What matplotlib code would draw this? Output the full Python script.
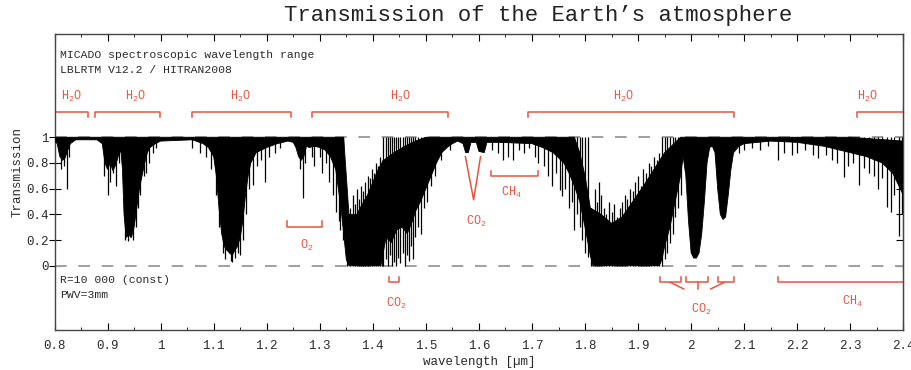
import numpy as np
import matplotlib
matplotlib.use("Agg")
import matplotlib.pyplot as plt
from matplotlib.ticker import MultipleLocator, FixedLocator, FormatStrFormatter

plt.rcParams['font.family'] = ['Liberation Mono', 'DejaVu Sans Mono']
plt.rcParams['mathtext.fontset'] = 'custom'
plt.rcParams['mathtext.rm'] = 'Liberation Mono'
plt.rcParams['mathtext.it'] = 'Liberation Mono'

# --- spectrum ------------------------------------------------------------
# lower edge of the solid black band (wavelength um, transmission)
bot_wl = [0.800, 0.805, 0.810, 0.815, 0.820, 0.825, 0.830, 0.840, 0.880, 0.890,
          0.895, 0.900, 0.905, 0.910, 0.915, 0.920, 0.925, 0.928, 0.931, 0.935,
          0.940, 0.945, 0.950, 0.955, 0.960, 0.965, 0.970, 0.975, 0.980, 0.990,
          1.000, 1.060, 1.080, 1.090, 1.100, 1.105, 1.110, 1.115, 1.120, 1.125,
          1.130, 1.135, 1.140, 1.145, 1.150, 1.155, 1.160, 1.165, 1.170, 1.180,
          1.190, 1.200, 1.220, 1.240, 1.250, 1.255, 1.260, 1.265, 1.270, 1.275,
          1.280, 1.290, 1.300, 1.310, 1.320, 1.330, 1.335, 1.340, 1.345, 1.350,
          1.355, 1.415, 1.425, 1.435, 1.445, 1.455, 1.465, 1.475, 1.480, 1.490,
          1.500, 1.510, 1.520, 1.530, 1.540, 1.550, 1.560, 1.570, 1.575, 1.580,
          1.585, 1.595, 1.600, 1.610, 1.615, 1.640, 1.700, 1.720, 1.740, 1.760,
          1.770, 1.780, 1.790, 1.800, 1.810, 1.815, 1.940, 1.945, 1.950, 1.960,
          1.970, 1.980, 1.985, 1.990, 1.995, 2.000, 2.005, 2.010, 2.015, 2.020,
          2.025, 2.030, 2.035, 2.040, 2.045, 2.050, 2.055, 2.060, 2.065, 2.070,
          2.075, 2.080, 2.090, 2.100, 2.150, 2.200, 2.250, 2.300, 2.330, 2.360,
          2.380, 2.400]
bot_t = [0.97, 0.95, 0.85, 0.82, 0.84, 0.90, 0.95, 0.98, 0.98, 0.95,
         0.80, 0.75, 0.80, 0.74, 0.78, 0.85, 0.90, 0.75, 0.40, 0.22,
         0.24, 0.22, 0.30, 0.45, 0.60, 0.70, 0.80, 0.88, 0.92, 0.95,
         0.97, 0.98, 0.95, 0.92, 0.85, 0.70, 0.45, 0.25, 0.15, 0.12,
         0.10, 0.08, 0.12, 0.15, 0.22, 0.35, 0.55, 0.70, 0.80, 0.88,
         0.90, 0.92, 0.95, 0.97, 0.96, 0.92, 0.85, 0.82, 0.85, 0.93,
         0.92, 0.93, 0.92, 0.90, 0.85, 0.75, 0.60, 0.45, 0.25, 0.05,
         0.00, 0.00, 0.22, 0.18, 0.28, 0.30, 0.25, 0.35, 0.42, 0.50,
         0.60, 0.70, 0.80, 0.88, 0.92, 0.95, 0.97, 0.95, 0.88, 0.88,
         0.96, 0.96, 0.89, 0.88, 0.96, 0.96, 0.95, 0.92, 0.88, 0.80,
         0.72, 0.62, 0.50, 0.30, 0.08, 0.00, 0.00, 0.05, 0.15, 0.30,
         0.50, 0.70, 0.85, 0.70, 0.35, 0.10, 0.06, 0.06, 0.10, 0.25,
         0.50, 0.80, 0.92, 0.93, 0.88, 0.60, 0.40, 0.36, 0.38, 0.55,
         0.75, 0.88, 0.93, 0.95, 0.97, 0.96, 0.93, 0.88, 0.85, 0.80,
         0.72, 0.55]

# upper edge of the solid black band
top_wl = [0.800, 1.345, 1.350, 1.355, 1.370, 1.380, 1.390, 1.400, 1.410, 1.420,
          1.440, 1.460, 1.480, 1.500, 1.780, 1.790, 1.800, 1.810, 1.830, 1.850,
          1.870, 1.890, 1.910, 1.930, 1.950, 1.970, 1.980, 2.300, 2.400]
top_t = [1.00, 1.00, 0.70, 0.40, 0.40, 0.48, 0.55, 0.65, 0.75, 0.82,
         0.88, 0.93, 0.97, 1.00, 1.00, 0.88, 0.70, 0.45, 0.40, 0.33,
         0.38, 0.50, 0.62, 0.75, 0.88, 0.96, 1.00, 1.00, 0.97]

# absorption lines hanging down from the continuum
dip_wl = [0.812, 0.818, 0.824, 0.828, 0.893, 0.900, 0.904, 0.910, 0.916, 0.921,
          0.933, 0.938, 0.943, 0.948, 0.953, 0.957, 0.962, 0.968, 0.972, 0.978,
          0.985, 0.992, 1.060, 1.075, 1.085, 1.095, 1.105, 1.110, 1.117, 1.122,
          1.128, 1.132, 1.135, 1.140, 1.145, 1.150, 1.155, 1.160, 1.167, 1.175,
          1.182, 1.190, 1.197, 1.205, 1.215, 1.225, 1.262, 1.268, 1.273, 1.285,
          1.290, 1.300, 1.305, 1.312, 1.318, 1.325, 1.330, 1.336, 1.339, 1.343,
          1.420, 1.424, 1.428, 1.432, 1.436, 1.440, 1.444, 1.448, 1.452, 1.456,
          1.460, 1.464, 1.468, 1.472, 1.476, 1.480, 1.485, 1.490, 1.496, 1.503,
          1.510, 1.518, 1.528, 1.545, 1.625, 1.635, 1.645, 1.655, 1.665, 1.675,
          1.685, 1.695, 1.705, 1.712, 1.722, 1.730, 1.738, 1.745, 1.752, 1.757,
          1.763, 1.770, 1.775, 1.780, 1.785, 1.790, 1.795, 1.800, 1.805, 1.945,
          1.950, 1.955, 1.960, 1.965, 1.970, 1.975, 1.980, 2.090, 2.100, 2.115,
          2.130, 2.145, 2.163, 2.175, 2.190, 2.200, 2.215, 2.230, 2.240, 2.255,
          2.265, 2.275, 2.288, 2.295, 2.305, 2.316, 2.325, 2.335, 2.345, 2.352,
          2.360, 2.370, 2.376, 2.383, 2.392, 2.397]
dip_min = [0.75, 0.78, 0.60, 0.85, 0.70, 0.55, 0.65, 0.72, 0.62, 0.80,
           0.20, 0.19, 0.22, 0.20, 0.30, 0.45, 0.55, 0.70, 0.72, 0.80,
           0.88, 0.92, 0.92, 0.88, 0.85, 0.75, 0.55, 0.30, 0.10, 0.05,
           0.10, 0.04, 0.03, 0.06, 0.10, 0.08, 0.20, 0.40, 0.60, 0.63,
           0.78, 0.82, 0.65, 0.85, 0.88, 0.92, 0.75, 0.53, 0.80, 0.85,
           0.78, 0.85, 0.72, 0.80, 0.65, 0.55, 0.42, 0.35, 0.28, 0.20,
           0.00, 0.05, 0.00, 0.08, 0.00, 0.03, 0.00, 0.06, 0.02, 0.10,
           0.00, 0.08, 0.04, 0.15, 0.05, 0.22, 0.30, 0.25, 0.45, 0.50,
           0.62, 0.70, 0.82, 0.90, 0.90, 0.88, 0.82, 0.85, 0.82, 0.90,
           0.88, 0.92, 0.85, 0.80, 0.78, 0.70, 0.62, 0.72, 0.59, 0.54,
           0.60, 0.45, 0.50, 0.28, 0.40, 0.30, 0.20, 0.10, 0.07, 0.00,
           0.05, 0.10, 0.18, 0.25, 0.38, 0.45, 0.55, 0.88, 0.90, 0.92,
           0.90, 0.93, 0.82, 0.88, 0.86, 0.88, 0.90, 0.86, 0.84, 0.86,
           0.82, 0.80, 0.69, 0.78, 0.80, 0.63, 0.76, 0.72, 0.70, 0.60,
           0.68, 0.46, 0.42, 0.55, 0.23, 0.40]

# windows of transmission rising out of the saturated bands
peak_wl = [1.352, 1.357, 1.362, 1.366, 1.370, 1.374, 1.378, 1.382, 1.386, 1.390,
           1.394, 1.398, 1.402, 1.406, 1.410, 1.414, 1.418, 1.812, 1.818, 1.822,
           1.826, 1.830, 1.835, 1.840, 1.845, 1.850, 1.855, 1.860, 1.865, 1.870,
           1.875, 1.880, 1.885, 1.890, 1.895, 1.900, 1.905, 1.910, 1.915, 1.920,
           1.925, 1.930, 1.935, 1.940]
peak_max = [0.35, 0.45, 0.55, 0.48, 0.60, 0.52, 0.62, 0.58, 0.65, 0.70,
            0.68, 0.75, 0.72, 0.80, 0.78, 0.85, 0.82, 0.45, 0.60, 0.50,
            0.65, 0.55, 0.45, 0.40, 0.50, 0.42, 0.48, 0.38, 0.45, 0.50,
            0.55, 0.52, 0.60, 0.58, 0.65, 0.70, 0.62, 0.75, 0.72, 0.80,
            0.78, 0.85, 0.82, 0.88]

# --- annotations ----------------------------------------------------------
h2o_brackets = [(0.800, 0.863), (0.876, 0.999), (1.060, 1.246),
                (1.285, 1.542), (1.692, 2.080), (2.312, 2.420)]
h2o_label_x = [0.831, 0.952, 1.151, 1.452, 1.873, 2.332]

red = '#e8523f'
ink = '#2a2a2a'

fig = plt.figure(figsize=(9.12, 3.70), dpi=100)
ax = fig.add_axes([0.0598, 0.108, 0.9307, 0.799])

# solid band
poly_x = np.concatenate([top_wl, bot_wl[::-1]])
poly_y = np.concatenate([top_t, bot_t[::-1]])
ax.fill(poly_x, poly_y, color='black', lw=0.6, zorder=3)
ax.vlines(dip_wl, dip_min, 1.0, color='black', lw=0.9, zorder=3)
ax.vlines(peak_wl, 0.0, peak_max, color='black', lw=0.9, zorder=3)

ax.axhline(1.0, color='#a0a0a0', lw=1.4, dashes=(6, 6), zorder=2)
ax.axhline(0.0, color='#a0a0a0', lw=1.4, dashes=(6, 6), zorder=2)

# H2O brackets on top
for (x0, x1), xl in zip(h2o_brackets, h2o_label_x):
    ax.plot([x0, x0, x1, x1], [1.16, 1.20, 1.20, 1.16], color=red, lw=1.1)
    ax.text(xl, 1.32, r'H$_2$O', color=red, fontsize=8.5, ha='center', va='center')

# O2
ax.plot([1.239, 1.239, 1.304, 1.304], [0.345, 0.305, 0.305, 0.345], color=red, lw=1.1)
ax.text(1.275, 0.16, r'O$_2$', color=red, fontsize=8.5, ha='center', va='center')
# CO2 at 1.44
ax.plot([1.430, 1.430, 1.450, 1.450], [-0.09, -0.13, -0.13, -0.09], color=red, lw=1.1)
ax.text(1.444, -0.29, r'CO$_2$', color=red, fontsize=8.5, ha='center', va='center')
# CO2 V at 1.58-1.60
ax.plot([1.5745, 1.590, 1.603], [0.849, 0.513, 0.849], color=red, lw=1.1)
ax.text(1.595, 0.344, r'CO$_2$', color=red, fontsize=8.5, ha='center', va='center')
# CH4 at 1.65
ax.plot([1.623, 1.623, 1.711, 1.711], [0.74, 0.70, 0.70, 0.74], color=red, lw=1.1)
ax.text(1.661, 0.567, r'CH$_4$', color=red, fontsize=8.5, ha='center', va='center')
# CO2 triple near 2.0
ax.plot([1.941, 1.941, 1.981, 1.981], [-0.09, -0.13, -0.13, -0.09], color=red, lw=1.1)
ax.plot([1.961, 1.986], [-0.13, -0.18], color=red, lw=1.1)
ax.plot([1.990, 1.990, 2.032, 2.032], [-0.09, -0.13, -0.13, -0.09], color=red, lw=1.1)
ax.plot([2.013, 2.013], [-0.13, -0.18], color=red, lw=1.1)
ax.plot([2.051, 2.051, 2.081, 2.081], [-0.09, -0.13, -0.13, -0.09], color=red, lw=1.1)
ax.plot([2.062, 2.037], [-0.13, -0.18], color=red, lw=1.1)
ax.text(2.020, -0.34, r'CO$_2$', color=red, fontsize=8.5, ha='center', va='center')
# CH4 long
ax.plot([2.163, 2.163, 2.42], [-0.09, -0.13, -0.13], color=red, lw=1.1)
ax.text(2.304, -0.277, r'CH$_4$', color=red, fontsize=8.5, ha='center', va='center')

# info text
ax.text(0.81, 1.64, 'MICADO spectroscopic wavelength range', fontsize=8.2, color=ink, va='center')
ax.text(0.81, 1.52, 'LBLRTM V12.2 / HITRAN2008', fontsize=8.2, color=ink, va='center')
ax.text(0.81, -0.11, 'R=10 000 (const)', fontsize=8.2, color=ink, va='center')
ax.text(0.81, -0.225, 'PWV=3mm', fontsize=8.2, color=ink, va='center')

ax.set_xlim(0.8, 2.4)
ax.set_ylim(-0.5, 1.8)
ax.xaxis.set_major_locator(MultipleLocator(0.1))
ax.xaxis.set_minor_locator(MultipleLocator(0.05))
ax.xaxis.set_major_formatter(FormatStrFormatter('%g'))
ax.yaxis.set_major_locator(FixedLocator([0, 0.2, 0.4, 0.6, 0.8, 1.0]))
ax.yaxis.set_major_formatter(FormatStrFormatter('%g'))
ax.tick_params(axis='x', which='both', direction='in', top=True, labelsize=9,
               labelcolor=ink, pad=7)
ax.tick_params(axis='x', which='major', length=5)
ax.tick_params(axis='x', which='minor', length=2.5)
ax.tick_params(axis='y', direction='inout', length=9, labelsize=9, labelcolor=ink, pad=0)
sec = ax.secondary_yaxis('right')
sec.yaxis.set_major_locator(FixedLocator([0, 0.2, 0.4, 0.6, 0.8, 1.0]))
sec.tick_params(direction='in', length=5, labelright=False)

for s in ax.spines.values():
    s.set_color('#444444')
    s.set_linewidth(1.0)

ax.set_xlabel('wavelength [\u00b5m]', fontsize=9, color=ink, labelpad=3)
ax.set_ylabel('Transmission', fontsize=9, color=ink)
ax.yaxis.set_label_coords(-0.037, 0.534)

fig.text(0.59, 0.958, 'Transmission of the Earth\u2019s atmosphere', fontsize=16,
         ha='center', va='center', color='#222222')

fig.savefig('out.png', dpi=100)
